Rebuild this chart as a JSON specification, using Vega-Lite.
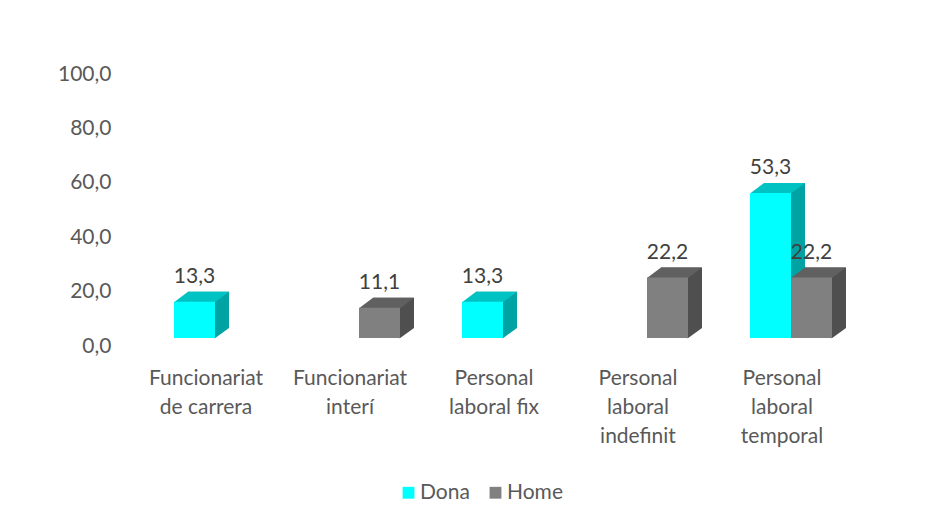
{
  "$schema": "https://vega.github.io/schema/vega-lite/v6.json",
  "width": 720,
  "height": 272,
  "autosize": {"type": "none"},
  "padding": {"left": 134, "top": 66, "right": 85, "bottom": 188},
  "background": "white",
  "config": {
    "locale": {"number": {"decimal": ",", "thousands": ".", "grouping": [3], "currency": ["", " €"]}},
    "view": {"stroke": null},
    "font": "Lato",
    "axis": {"grid": false, "domain": false, "ticks": false, "tickSize": 0, "title": null, "labelFont": "Lato", "labelFontSize": 21, "labelColor": "#595959"}
  },
  "data": {"values": [
    {"categoria": "Funcionariat de carrera", "sexe": "Dona", "valor": 13.3},
    {"categoria": "Funcionariat interí", "sexe": "Home", "valor": 11.1},
    {"categoria": "Personal laboral fix", "sexe": "Dona", "valor": 13.3},
    {"categoria": "Personal laboral indefinit", "sexe": "Home", "valor": 22.2},
    {"categoria": "Personal laboral temporal", "sexe": "Dona", "valor": 53.3},
    {"categoria": "Personal laboral temporal", "sexe": "Home", "valor": 22.2}
  ]},
  "encoding": {
    "x": {
      "field": "categoria", "type": "nominal", "sort": null,
      "scale": {"domain": ["Funcionariat de carrera", "Funcionariat interí", "Personal laboral fix", "Personal laboral indefinit", "Personal laboral temporal"], "paddingInner": 0, "paddingOuter": 0},
      "axis": {"labelAngle": 0, "labelPadding": 29, "labelLineHeight": 29, "labelBaseline": "top", "labelLimit": 0,
        "labelExpr": "{'Funcionariat de carrera': ['Funcionariat', 'de carrera'], 'Funcionariat interí': ['Funcionariat', 'interí'], 'Personal laboral fix': ['Personal', 'laboral fix'], 'Personal laboral indefinit': ['Personal', 'laboral', 'indefinit'], 'Personal laboral temporal': ['Personal', 'laboral', 'temporal']}[datum.label]"}
    },
    "y": {
      "field": "valor", "type": "quantitative",
      "scale": {"domain": [0, 100]},
      "axis": {"values": [0, 20, 40, 60, 80, 100], "format": ".1f", "labelPadding": 23, "labelOffset": 8}
    }
  },
  "layer": [
    {
      "transform": [{"filter": "datum.sexe === 'Dona'"}],
      "mark": {"type": "bar", "width": 41, "xOffset": 2.5, "yOffset": -10, "y2Offset": -10, "color": "#00A3A3"}
    },
    {
      "transform": [{"filter": "datum.sexe === 'Dona'"}],
      "mark": {"type": "point", "filled": true, "strokeWidth": 0, "opacity": 1, "size": 4, "xOffset": -11.5, "color": "#00A3A3", "shape": "M20,0.5L34.5,-10L20,-10Z"},
      "encoding": {"y": {"datum": 0, "type": "quantitative"}}
    },
    {
      "transform": [{"filter": "datum.sexe === 'Dona'"}],
      "mark": {"type": "point", "filled": true, "strokeWidth": 0, "opacity": 1, "size": 4, "xOffset": -11.5, "color": "#00C2C2", "shape": "M-20.5,0.5L20.5,0.5L34.5,-10L-6.5,-10Z"}
    },
    {
      "transform": [{"filter": "datum.sexe === 'Dona'"}],
      "mark": {"type": "bar", "width": 41, "xOffset": -11.5},
      "encoding": {"color": {"field": "sexe", "type": "nominal", "scale": {"domain": ["Dona", "Home"], "range": ["#00FFFF", "#808080"]},
        "legend": {"title": null, "orient": "none", "legendX": 264, "legendY": 416, "direction": "horizontal", "symbolType": "square", "symbolSize": 140, "symbolStrokeWidth": 0, "labelFont": "Lato", "labelFontSize": 21, "labelColor": "#595959", "columnPadding": 15, "labelOffset": 1}}}
    },
    {
      "transform": [{"filter": "datum.sexe === 'Dona'"}],
      "mark": {"type": "text", "xOffset": -11.5, "dy": -19, "baseline": "alphabetic", "fontSize": 21, "font": "Lato", "color": "#404040"},
      "encoding": {"text": {"field": "valor", "type": "quantitative", "format": ".1f"}}
    },
    {
      "transform": [{"filter": "datum.sexe === 'Home'"}],
      "mark": {"type": "bar", "width": 41, "xOffset": 43.5, "yOffset": -10, "y2Offset": -10, "color": "#4F4F4F"}
    },
    {
      "transform": [{"filter": "datum.sexe === 'Home'"}],
      "mark": {"type": "point", "filled": true, "strokeWidth": 0, "opacity": 1, "size": 4, "xOffset": 29.5, "color": "#4F4F4F", "shape": "M20,0.5L34.5,-10L20,-10Z"},
      "encoding": {"y": {"datum": 0, "type": "quantitative"}}
    },
    {
      "transform": [{"filter": "datum.sexe === 'Home'"}],
      "mark": {"type": "point", "filled": true, "strokeWidth": 0, "opacity": 1, "size": 4, "xOffset": 29.5, "color": "#606060", "shape": "M-20.5,0.5L20.5,0.5L34.5,-10L-6.5,-10Z"}
    },
    {
      "transform": [{"filter": "datum.sexe === 'Home'"}],
      "mark": {"type": "bar", "width": 41, "xOffset": 29.5},
      "encoding": {"color": {"field": "sexe", "type": "nominal"}}
    },
    {
      "transform": [{"filter": "datum.sexe === 'Home'"}],
      "mark": {"type": "text", "xOffset": 29.5, "dy": -19, "baseline": "alphabetic", "fontSize": 21, "font": "Lato", "color": "#404040"},
      "encoding": {"text": {"field": "valor", "type": "quantitative", "format": ".1f"}}
    }
  ]
}
